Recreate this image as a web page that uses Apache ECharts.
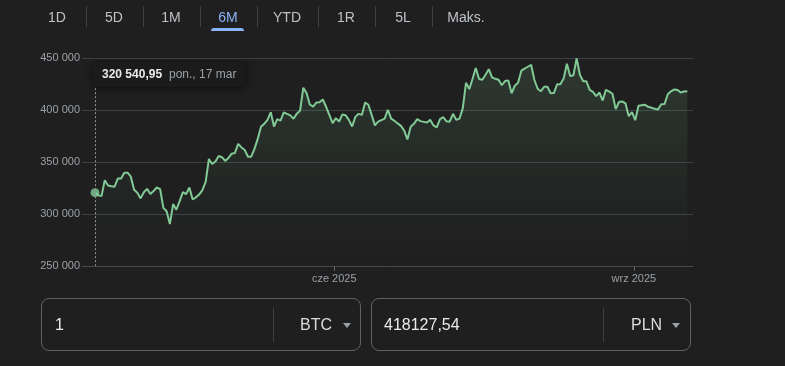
<!DOCTYPE html>
<html><head><meta charset="utf-8">
<script src="https://cdn.jsdelivr.net/npm/echarts@6/dist/echarts.min.js"></script>
<style>
html,body{margin:0;padding:0;background:#1f1f1f;width:785px;height:366px;overflow:hidden;font-family:"Liberation Sans",Arial,sans-serif}
#chart{position:absolute;left:0;top:0;width:785px;height:366px}
.tab{position:absolute;top:7px;height:20px;line-height:20px;font-size:14px;color:#bdc1c6;transform:translateX(-50%);white-space:nowrap}
.tab.active{color:#8ab4f8}
.sep{position:absolute;top:6px;width:1px;height:21px;background:#3c4043}
.under{position:absolute;left:211px;top:28px;width:33px;height:3px;background:#8ab4f8;border-radius:3px 3px 0 0}
.box{position:absolute;top:298px;height:53px;width:320px;box-sizing:border-box;border:1px solid #5f6368;border-radius:8px}
.box .val{position:absolute;top:0;height:51px;line-height:51px;font-size:16px;color:#e8eaed}
.box .cur{position:absolute;top:0;height:51px;line-height:51px;font-size:16px;color:#dadce0}
.box .vsep{position:absolute;top:9px;width:1px;height:34px;background:#3c4043}
.box .tri{position:absolute;top:24px;width:0;height:0;border-left:4.5px solid transparent;border-right:4.5px solid transparent;border-top:5px solid #9aa0a6}
</style></head>
<body>
<div id="chart"></div>
<div id="tabs"></div>
<div class="box" id="box1" style="left:41px">
  <div class="val" id="amount" style="left:13px"></div>
  <div class="vsep" style="left:231px"></div>
  <div class="cur" id="fromCur" style="left:258px"></div>
  <div class="tri" style="left:301px"></div>
</div>
<div class="box" id="box2" style="left:371px">
  <div class="val" id="converted" style="left:12px"></div>
  <div class="vsep" style="left:231px"></div>
  <div class="cur" id="toCur" style="left:259px"></div>
  <div class="tri" style="left:300px"></div>
</div>
<script>
// ---- data ----
const startDate = [2025, 2, 17]; // 17 mar 2025, first point (daily values)
const values = [
320540.95,317900,317300,332400,327400,326700,326200,334100,334100,339700,
339700,335900,323300,320400,315000,320900,324200,319200,322100,325500,
324000,305900,302600,290300,309500,304100,312400,321100,319200,325500,
313900,316000,318700,323000,330800,352900,348100,350500,355800,354600,
351000,353900,358000,358700,367400,364000,361600,355000,355100,362600,
372200,383800,386700,390500,397800,384100,391200,389800,397600,396300,
394900,391500,396500,399200,421400,416300,405300,403300,407200,407400,
410100,403100,395300,387300,392200,388900,395800,394900,390500,384100,
393400,396300,395300,407200,405000,395300,385200,388900,390300,391700,
400200,391700,389600,387100,384700,380200,371700,383800,386700,391200,
389300,388600,387900,390500,385200,383300,391200,393100,389100,388800,
396300,390500,391700,401600,426200,420100,429800,440400,429800,429100,
433900,439200,431300,430000,429100,423800,427800,428400,416100,423300,
426200,437800,439700,441600,443500,429100,420400,418000,422300,422300,
416100,416300,424700,424700,430200,444500,432600,433400,449500,433900,
427600,427600,419400,417500,413400,416800,409100,419400,417700,415600,
400800,407700,408200,406400,394100,397900,390200,404000,404500,405000,
403100,402100,401100,400500,405500,405700,415100,418000,419800,419200,
416800,417800,418127.54
];
const tooltipDate = 'pon., 17 mar';
const xTickLabels = ['cze 2025', 'wrz 2025'];
const xTickDates = [[2025, 4, 29, 12], [2025, 7, 29, 14]];
const yMin = 250000, yMax = 450000, yStep = 50000;
const tabs = ['1D', '5D', '1M', '6M', 'YTD', '1R', '5L', 'Maks.'];
const activeTab = '6M';
const amount = '1', fromCur = 'BTC', toCur = 'PLN';

// ---- helpers ----
const DAY = 86400000;
const t0 = Date.UTC(startDate[0], startDate[1], startDate[2]);
const dayOf = a => (Date.UTC(a[0], a[1], a[2], a[3] || 0) - t0) / DAY;
const days = values.map((v, i) => i); // one value per day from startDate
const fmtThousands = (n) => String(n).replace(/\B(?=(\d{3})+(?!\d))/g, ' ');
const fmtPrice = (n, sep) => {
  const [i, d] = n.toFixed(2).split('.');
  return (sep ? fmtThousands(i) : i) + ',' + d;
};
const lineData = values.map((v, i) => [days[i], v]);
const tickDays = xTickDates.map(dayOf);

// ---- HTML parts ----
const tabX = [57, 114, 171, 228, 287, 346, 403, 466];
const sepX = [86, 143, 200, 257, 318, 375, 432];
const tabsEl = document.getElementById('tabs');
tabs.forEach((t, i) => {
  const d = document.createElement('div');
  d.className = 'tab' + (t === activeTab ? ' active' : '');
  d.style.left = tabX[i] + 'px';
  d.textContent = t;
  tabsEl.appendChild(d);
});
sepX.forEach(x => {
  const s = document.createElement('div');
  s.className = 'sep'; s.style.left = x + 'px';
  tabsEl.appendChild(s);
});
const u = document.createElement('div'); u.className = 'under'; tabsEl.appendChild(u);
document.getElementById('amount').textContent = amount;
document.getElementById('fromCur').textContent = fromCur;
document.getElementById('toCur').textContent = toCur;
document.getElementById('converted').textContent = fmtPrice(values[values.length - 1], false);

// ---- chart ----
const chart = echarts.init(document.getElementById('chart'), null, {renderer: 'canvas'});
const FONT = '"Liberation Sans", Arial, sans-serif';
chart.setOption({
  animation: false,
  backgroundColor: 'transparent',
  grid: {left: 82, right: 92, top: 58, bottom: 100},
  xAxis: {
    type: 'value',
    min: -4,
    max: days[days.length - 1] + 1.75,
    axisLine: {show: true, onZero: false, lineStyle: {color: '#474a4d', width: 1}},
    axisTick: {show: true, customValues: tickDays, length: 5, lineStyle: {color: '#5f6368'}},
    axisLabel: {
      customValues: tickDays, color: '#9aa0a6', fontSize: 11, fontFamily: FONT, margin: 7,
      formatter: (v) => { const k = tickDays.indexOf(v); return k >= 0 ? xTickLabels[k] : ''; }
    },
    splitLine: {show: false}
  },
  yAxis: {
    type: 'value', min: yMin, max: yMax, interval: yStep,
    axisLine: {show: false}, axisTick: {show: false},
    axisLabel: {color: '#9aa0a6', fontSize: 11, fontFamily: FONT, margin: 2, formatter: v => fmtThousands(v)},
    splitLine: {lineStyle: {color: '#3c4043', width: 1}}
  },
  series: [
    {
      type: 'line', data: lineData, showSymbol: false, symbol: 'none',
      lineStyle: {color: '#81c995', width: 2},
      areaStyle: {
        color: new echarts.graphic.LinearGradient(0, 0, 0, 1, [
          {offset: 0, color: 'rgba(129,201,149,0.22)'},
          {offset: 0.6, color: 'rgba(129,201,149,0.07)'},
          {offset: 1, color: 'rgba(129,201,149,0)'}
        ])
      },
      markLine: {
        silent: true, symbol: 'none', label: {show: false},
        lineStyle: {type: [2, 2], color: '#8f9499', width: 1},
        data: [[{coord: [days[0], 421000]}, {coord: [days[0], yMin]}]]
      },
      z: 2
    },
    {
      type: 'scatter', data: [[days[0], values[0]]], symbolSize: 9,
      itemStyle: {color: '#81c995'}, z: 3, silent: true
    }
  ],
  graphic: [{
    type: 'group', left: 93, top: 62,
    children: [
      {type: 'rect', shape: {x: 0, y: 0, width: 152, height: 25, r: 4},
       style: {fill: '#1b1b1b', shadowBlur: 8, shadowColor: 'rgba(0,0,0,0.55)', shadowOffsetY: 1}},
      {type: 'text', x: 9, y: 12.5, style: {text: fmtPrice(values[0], true), font: 'bold 12px ' + FONT, fill: '#e8eaed', verticalAlign: 'middle'}},
      {type: 'text', x: 76, y: 12.5, style: {text: tooltipDate, font: '12px ' + FONT, fill: '#9aa0a6', verticalAlign: 'middle'}}
    ]
  }]
});
</script>
</body></html>
